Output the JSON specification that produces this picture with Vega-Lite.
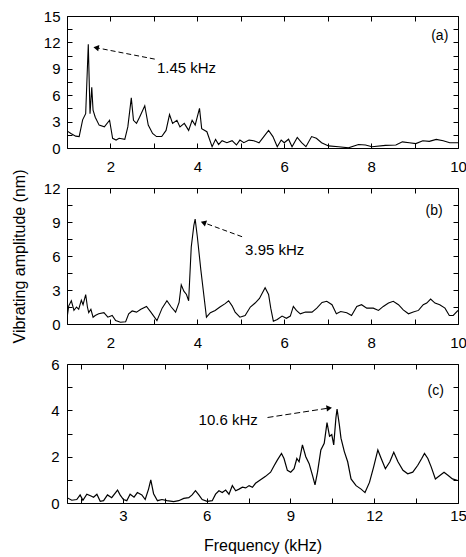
{
  "$schema": "https://vega.github.io/schema/vega-lite/v6.json",
  "padding": {"left": 10, "top": 8, "right": 5, "bottom": 5},
  "background": "white",
  "datasets": {
    "a": [
      {"f": 1.0, "amp": 1.95}, {"f": 1.09, "amp": 1.65}, {"f": 1.2, "amp": 1.35}, {"f": 1.28, "amp": 1.3},
      {"f": 1.36, "amp": 3.2}, {"f": 1.43, "amp": 3.9}, {"f": 1.49, "amp": 11.8}, {"f": 1.53, "amp": 3.9},
      {"f": 1.57, "amp": 6.9}, {"f": 1.6, "amp": 4.3}, {"f": 1.65, "amp": 3.5}, {"f": 1.74, "amp": 2.6},
      {"f": 1.86, "amp": 2.4}, {"f": 1.98, "amp": 3.15}, {"f": 2.05, "amp": 1.1}, {"f": 2.13, "amp": 0.9},
      {"f": 2.2, "amp": 1.1}, {"f": 2.33, "amp": 0.98}, {"f": 2.4, "amp": 2.4}, {"f": 2.48, "amp": 5.7},
      {"f": 2.53, "amp": 3.15}, {"f": 2.6, "amp": 2.8}, {"f": 2.67, "amp": 3.5}, {"f": 2.79, "amp": 4.8},
      {"f": 2.87, "amp": 2.6}, {"f": 2.97, "amp": 1.65}, {"f": 3.06, "amp": 1.3}, {"f": 3.18, "amp": 1.3},
      {"f": 3.28, "amp": 2.0}, {"f": 3.36, "amp": 3.8}, {"f": 3.43, "amp": 2.8}, {"f": 3.53, "amp": 3.15},
      {"f": 3.6, "amp": 2.4}, {"f": 3.7, "amp": 2.8}, {"f": 3.8, "amp": 2.0}, {"f": 3.88, "amp": 3.15},
      {"f": 3.95, "amp": 2.6}, {"f": 4.05, "amp": 4.5}, {"f": 4.1, "amp": 2.2}, {"f": 4.22, "amp": 1.85},
      {"f": 4.34, "amp": 0.15}, {"f": 4.42, "amp": 0.98}, {"f": 4.49, "amp": 0.4}, {"f": 4.57, "amp": 0.83},
      {"f": 4.68, "amp": 0.6}, {"f": 4.8, "amp": 0.83}, {"f": 4.9, "amp": 0.34}, {"f": 4.98, "amp": 0.9},
      {"f": 5.07, "amp": 0.6}, {"f": 5.19, "amp": 0.9}, {"f": 5.3, "amp": 0.83}, {"f": 5.42, "amp": 0.6},
      {"f": 5.53, "amp": 1.3}, {"f": 5.64, "amp": 2.0}, {"f": 5.74, "amp": 1.3}, {"f": 5.84, "amp": 0.15},
      {"f": 5.93, "amp": 0.9}, {"f": 6.0, "amp": 0.6}, {"f": 6.1, "amp": 1.0}, {"f": 6.18, "amp": 0.15},
      {"f": 6.3, "amp": 1.2}, {"f": 6.4, "amp": 0.6}, {"f": 6.5, "amp": 0.15}, {"f": 6.63, "amp": 1.3},
      {"f": 6.74, "amp": 1.1}, {"f": 6.86, "amp": 0.6}, {"f": 7.02, "amp": 0.24}, {"f": 7.25, "amp": 0.15},
      {"f": 7.48, "amp": 0.02}, {"f": 7.71, "amp": 0.4}, {"f": 7.87, "amp": 0.34}, {"f": 8.02, "amp": 0.15},
      {"f": 8.33, "amp": 0.3}, {"f": 8.57, "amp": 0.34}, {"f": 8.72, "amp": 0.7}, {"f": 8.88, "amp": 0.6},
      {"f": 9.03, "amp": 0.5}, {"f": 9.19, "amp": 0.83}, {"f": 9.34, "amp": 0.75}, {"f": 9.5, "amp": 0.98},
      {"f": 9.66, "amp": 0.83}, {"f": 9.81, "amp": 0.6}, {"f": 10.0, "amp": 0.6}
    ],
    "b": [
      {"f": 1.0, "amp": 0.5}, {"f": 1.04, "amp": 1.6}, {"f": 1.1, "amp": 2.05}, {"f": 1.16, "amp": 1.2},
      {"f": 1.22, "amp": 1.5}, {"f": 1.27, "amp": 1.3}, {"f": 1.33, "amp": 2.1}, {"f": 1.37, "amp": 1.7},
      {"f": 1.43, "amp": 2.6}, {"f": 1.47, "amp": 1.5}, {"f": 1.5, "amp": 1.0}, {"f": 1.55, "amp": 1.3},
      {"f": 1.6, "amp": 0.6}, {"f": 1.65, "amp": 0.75}, {"f": 1.73, "amp": 0.9}, {"f": 1.85, "amp": 1.0},
      {"f": 1.94, "amp": 0.6}, {"f": 2.04, "amp": 0.75}, {"f": 2.12, "amp": 0.3}, {"f": 2.23, "amp": 0.15},
      {"f": 2.35, "amp": 0.2}, {"f": 2.42, "amp": 0.9}, {"f": 2.5, "amp": 1.15}, {"f": 2.6, "amp": 1.05},
      {"f": 2.7, "amp": 1.3}, {"f": 2.83, "amp": 1.55}, {"f": 2.93, "amp": 1.05}, {"f": 3.07, "amp": 0.3},
      {"f": 3.19, "amp": 1.4}, {"f": 3.3, "amp": 2.05}, {"f": 3.4, "amp": 1.5}, {"f": 3.5, "amp": 1.05},
      {"f": 3.58, "amp": 1.9}, {"f": 3.63, "amp": 3.45}, {"f": 3.69, "amp": 2.9}, {"f": 3.75, "amp": 2.6},
      {"f": 3.8, "amp": 2.05}, {"f": 3.86, "amp": 6.8}, {"f": 3.92, "amp": 8.7}, {"f": 3.95, "amp": 9.25},
      {"f": 4.0, "amp": 7.7}, {"f": 4.08, "amp": 4.8}, {"f": 4.21, "amp": 0.6}, {"f": 4.3, "amp": 1.0},
      {"f": 4.41, "amp": 1.2}, {"f": 4.52, "amp": 1.5}, {"f": 4.64, "amp": 1.8}, {"f": 4.72, "amp": 2.05},
      {"f": 4.8, "amp": 1.6}, {"f": 4.87, "amp": 1.05}, {"f": 4.98, "amp": 0.6}, {"f": 5.1, "amp": 0.75},
      {"f": 5.22, "amp": 1.5}, {"f": 5.33, "amp": 1.85}, {"f": 5.43, "amp": 2.25}, {"f": 5.56, "amp": 3.2},
      {"f": 5.64, "amp": 2.6}, {"f": 5.69, "amp": 1.4}, {"f": 5.75, "amp": 0.25}, {"f": 5.84, "amp": 0.4},
      {"f": 5.95, "amp": 0.7}, {"f": 6.05, "amp": 0.5}, {"f": 6.14, "amp": 0.7}, {"f": 6.21, "amp": 1.55},
      {"f": 6.28, "amp": 1.2}, {"f": 6.37, "amp": 0.9}, {"f": 6.49, "amp": 1.05}, {"f": 6.64, "amp": 1.05},
      {"f": 6.75, "amp": 1.4}, {"f": 6.87, "amp": 1.9}, {"f": 6.98, "amp": 2.0}, {"f": 7.1, "amp": 1.7},
      {"f": 7.2, "amp": 0.9}, {"f": 7.3, "amp": 1.1}, {"f": 7.44, "amp": 1.0}, {"f": 7.55, "amp": 0.75},
      {"f": 7.67, "amp": 1.55}, {"f": 7.78, "amp": 1.7}, {"f": 7.9, "amp": 1.4}, {"f": 8.05, "amp": 1.4},
      {"f": 8.17, "amp": 1.2}, {"f": 8.28, "amp": 1.55}, {"f": 8.4, "amp": 1.85}, {"f": 8.51, "amp": 2.0},
      {"f": 8.63, "amp": 1.7}, {"f": 8.74, "amp": 1.25}, {"f": 8.86, "amp": 0.9}, {"f": 8.97, "amp": 1.05},
      {"f": 9.09, "amp": 1.2}, {"f": 9.2, "amp": 1.7}, {"f": 9.28, "amp": 1.85}, {"f": 9.37, "amp": 2.2},
      {"f": 9.47, "amp": 1.85}, {"f": 9.58, "amp": 1.7}, {"f": 9.7, "amp": 1.4}, {"f": 9.8, "amp": 0.75},
      {"f": 9.89, "amp": 0.75}, {"f": 10.0, "amp": 1.2}
    ],
    "c": [
      {"f": 1.0, "amp": 0.23}, {"f": 1.17, "amp": 0.12}, {"f": 1.35, "amp": 0.15}, {"f": 1.47, "amp": 0.35},
      {"f": 1.57, "amp": 0.12}, {"f": 1.71, "amp": 0.38}, {"f": 1.86, "amp": 0.3}, {"f": 1.95, "amp": 0.25},
      {"f": 2.07, "amp": 0.38}, {"f": 2.19, "amp": 0.07}, {"f": 2.31, "amp": 0.1}, {"f": 2.45, "amp": 0.35},
      {"f": 2.6, "amp": 0.23}, {"f": 2.81, "amp": 0.56}, {"f": 2.9, "amp": 0.35}, {"f": 3.02, "amp": 0.15},
      {"f": 3.14, "amp": 0.1}, {"f": 3.26, "amp": 0.38}, {"f": 3.4, "amp": 0.25}, {"f": 3.52, "amp": 0.45},
      {"f": 3.68, "amp": 0.35}, {"f": 3.8, "amp": 0.15}, {"f": 3.92, "amp": 0.6}, {"f": 4.0, "amp": 1.0},
      {"f": 4.1, "amp": 0.4}, {"f": 4.24, "amp": 0.1}, {"f": 4.4, "amp": 0.15}, {"f": 4.58, "amp": 0.1},
      {"f": 4.82, "amp": 0.06}, {"f": 5.0, "amp": 0.1}, {"f": 5.18, "amp": 0.2}, {"f": 5.36, "amp": 0.23},
      {"f": 5.48, "amp": 0.35}, {"f": 5.6, "amp": 0.53}, {"f": 5.72, "amp": 0.35}, {"f": 5.84, "amp": 0.15},
      {"f": 6.02, "amp": 0.07}, {"f": 6.2, "amp": 0.1}, {"f": 6.32, "amp": 0.38}, {"f": 6.44, "amp": 0.53},
      {"f": 6.56, "amp": 0.45}, {"f": 6.68, "amp": 0.56}, {"f": 6.8, "amp": 0.38}, {"f": 6.92, "amp": 0.75},
      {"f": 7.04, "amp": 0.53}, {"f": 7.16, "amp": 0.6}, {"f": 7.28, "amp": 0.68}, {"f": 7.4, "amp": 0.65},
      {"f": 7.52, "amp": 0.75}, {"f": 7.64, "amp": 0.68}, {"f": 7.75, "amp": 0.85}, {"f": 7.93, "amp": 1.0},
      {"f": 8.11, "amp": 1.15}, {"f": 8.29, "amp": 1.33}, {"f": 8.41, "amp": 1.6}, {"f": 8.53, "amp": 1.85},
      {"f": 8.68, "amp": 2.14}, {"f": 8.77, "amp": 1.92}, {"f": 8.89, "amp": 1.41}, {"f": 9.01, "amp": 1.33},
      {"f": 9.13, "amp": 1.48}, {"f": 9.23, "amp": 1.92}, {"f": 9.31, "amp": 1.78}, {"f": 9.43, "amp": 2.51},
      {"f": 9.55, "amp": 2.0}, {"f": 9.67, "amp": 1.7}, {"f": 9.79, "amp": 1.19}, {"f": 9.88, "amp": 0.78},
      {"f": 9.97, "amp": 1.33}, {"f": 10.09, "amp": 2.29}, {"f": 10.21, "amp": 2.58}, {"f": 10.31, "amp": 3.47},
      {"f": 10.4, "amp": 2.88}, {"f": 10.48, "amp": 2.95}, {"f": 10.55, "amp": 2.51}, {"f": 10.63, "amp": 3.69},
      {"f": 10.67, "amp": 4.05}, {"f": 10.75, "amp": 3.39}, {"f": 10.81, "amp": 2.8}, {"f": 10.93, "amp": 2.22},
      {"f": 11.05, "amp": 1.78}, {"f": 11.17, "amp": 1.04}, {"f": 11.35, "amp": 0.75}, {"f": 11.53, "amp": 0.6},
      {"f": 11.67, "amp": 0.45}, {"f": 11.83, "amp": 0.89}, {"f": 11.98, "amp": 1.56}, {"f": 12.13, "amp": 2.29},
      {"f": 12.25, "amp": 1.92}, {"f": 12.4, "amp": 1.48}, {"f": 12.56, "amp": 1.78}, {"f": 12.7, "amp": 2.19},
      {"f": 12.85, "amp": 1.78}, {"f": 13.03, "amp": 1.41}, {"f": 13.2, "amp": 1.26}, {"f": 13.38, "amp": 1.33},
      {"f": 13.56, "amp": 1.63}, {"f": 13.7, "amp": 1.92}, {"f": 13.8, "amp": 2.14}, {"f": 13.92, "amp": 1.92},
      {"f": 14.04, "amp": 1.56}, {"f": 14.19, "amp": 1.04}, {"f": 14.35, "amp": 1.19}, {"f": 14.5, "amp": 1.33},
      {"f": 14.65, "amp": 1.19}, {"f": 14.8, "amp": 1.04}, {"f": 15.0, "amp": 0.97}
    ],
    "notes": [
      {"panel": "a", "label": "1.45 kHz", "tx": 3.07, "ty": 9.1, "x1": 3.02, "y1": 10.1, "x2": 1.67, "y2": 11.4, "tag": "(a)", "gx": 9.58, "gy": 12.7},
      {"panel": "b", "label": "3.95 kHz", "tx": 5.1, "ty": 6.5, "x1": 5.03, "y1": 7.7, "x2": 4.14, "y2": 8.95, "tag": "(b)", "gx": 9.45, "gy": 10.0},
      {"panel": "c", "label": "10.6 kHz", "tx": 5.71, "ty": 3.6, "x1": 8.18, "y1": 3.69, "x2": 10.39, "y2": 4.1, "tag": "(c)", "gx": 14.2, "gy": 4.85}
    ]
  },
  "vconcat": [
    {
      "width": 391,
      "height": 132,
      "layer": [
        {
          "data": {"name": "a"},
          "mark": {"type": "line", "color": "black", "strokeWidth": 1.1, "clip": true},
          "encoding": {
            "x": {"field": "f", "type": "quantitative", "scale": {"domain": [1, 10], "nice": false, "zero": false},
              "axis": {"orient": "bottom", "title": null, "values": [1, 2, 3, 4, 5, 6, 7, 8, 9, 10], "labelExpr": "datum.value % 2 == 0 ? datum.label : ''", "labelPadding": 16}},
            "y": {"field": "amp", "type": "quantitative", "scale": {"domain": [0, 15], "nice": false},
              "axis": {"orient": "left", "title": null, "values": [0, 1.5, 3, 4.5, 6, 7.5, 9, 10.5, 12, 13.5, 15], "labelExpr": "datum.value % 3 == 0 ? datum.label : ''", "labelPadding": 12}}
          }
        },
        {
          "data": {"name": "notes"},
          "transform": [{"filter": "datum.panel == 'a'"}],
          "mark": {"type": "rule", "color": "black", "strokeWidth": 1, "strokeDash": [5, 3]},
          "encoding": {
            "x": {"field": "x1", "type": "quantitative", "axis": {"orient": "top", "title": null, "labels": false, "values": [1, 2, 3, 4, 5, 6, 7, 8, 9, 10]}},
            "y": {"field": "y1", "type": "quantitative", "axis": {"orient": "right", "title": null, "labels": false, "values": [0, 1.5, 3, 4.5, 6, 7.5, 9, 10.5, 12, 13.5, 15]}},
            "x2": {"field": "x2"},
            "y2": {"field": "y2"}
          }
        },
        {
          "data": {"name": "notes"},
          "transform": [{"filter": "datum.panel == 'a'"}],
          "mark": {"type": "point", "shape": "triangle-left", "angle": 11, "filled": true, "color": "black", "opacity": 1, "size": 40},
          "encoding": {
            "x": {"field": "x2", "type": "quantitative", "axis": null},
            "y": {"field": "y2", "type": "quantitative", "axis": null}
          }
        },
        {
          "data": {"name": "notes"},
          "transform": [{"filter": "datum.panel == 'a'"}],
          "mark": {"type": "text", "align": "left", "baseline": "middle", "fontSize": 15},
          "encoding": {
            "x": {"field": "tx", "type": "quantitative", "axis": null},
            "y": {"field": "ty", "type": "quantitative", "axis": null},
            "text": {"field": "label"}
          }
        },
        {
          "data": {"name": "notes"},
          "transform": [{"filter": "datum.panel == 'a'"}],
          "mark": {"type": "text", "align": "center", "baseline": "middle", "fontSize": 14},
          "encoding": {
            "x": {"field": "gx", "type": "quantitative", "axis": null},
            "y": {"field": "gy", "type": "quantitative", "axis": null},
            "text": {"field": "tag"}
          }
        }
      ],
      "resolve": {"axis": {"x": "independent", "y": "independent"}}
    },
    {
      "width": 391,
      "height": 136,
      "layer": [
        {
          "data": {"name": "b"},
          "mark": {"type": "line", "color": "black", "strokeWidth": 1.1, "clip": true},
          "encoding": {
            "x": {"field": "f", "type": "quantitative", "scale": {"domain": [1, 10], "nice": false, "zero": false},
              "axis": {"orient": "bottom", "title": null, "values": [1, 2, 3, 4, 5, 6, 7, 8, 9, 10], "labelExpr": "datum.value % 2 == 0 ? datum.label : ''", "labelPadding": 16}},
            "y": {"field": "amp", "type": "quantitative", "scale": {"domain": [0, 12], "nice": false},
              "axis": {"orient": "left", "title": "Vibrating amplitude (nm)", "titlePadding": 16, "values": [0, 1.5, 3, 4.5, 6, 7.5, 9, 10.5, 12], "labelExpr": "datum.value % 3 == 0 ? datum.label : ''", "labelPadding": 12}}
          }
        },
        {
          "data": {"name": "notes"},
          "transform": [{"filter": "datum.panel == 'b'"}],
          "mark": {"type": "rule", "color": "black", "strokeWidth": 1, "strokeDash": [5, 3]},
          "encoding": {
            "x": {"field": "x1", "type": "quantitative", "axis": {"orient": "top", "title": null, "labels": false, "values": [1, 2, 3, 4, 5, 6, 7, 8, 9, 10]}},
            "y": {"field": "y1", "type": "quantitative", "axis": {"orient": "right", "title": null, "labels": false, "values": [0, 1.5, 3, 4.5, 6, 7.5, 9, 10.5, 12]}},
            "x2": {"field": "x2"},
            "y2": {"field": "y2"}
          }
        },
        {
          "data": {"name": "notes"},
          "transform": [{"filter": "datum.panel == 'b'"}],
          "mark": {"type": "point", "shape": "triangle-left", "angle": 20, "filled": true, "color": "black", "opacity": 1, "size": 40},
          "encoding": {
            "x": {"field": "x2", "type": "quantitative", "axis": null},
            "y": {"field": "y2", "type": "quantitative", "axis": null}
          }
        },
        {
          "data": {"name": "notes"},
          "transform": [{"filter": "datum.panel == 'b'"}],
          "mark": {"type": "text", "align": "left", "baseline": "middle", "fontSize": 15},
          "encoding": {
            "x": {"field": "tx", "type": "quantitative", "axis": null},
            "y": {"field": "ty", "type": "quantitative", "axis": null},
            "text": {"field": "label"}
          }
        },
        {
          "data": {"name": "notes"},
          "transform": [{"filter": "datum.panel == 'b'"}],
          "mark": {"type": "text", "align": "center", "baseline": "middle", "fontSize": 14},
          "encoding": {
            "x": {"field": "gx", "type": "quantitative", "axis": null},
            "y": {"field": "gy", "type": "quantitative", "axis": null},
            "text": {"field": "tag"}
          }
        }
      ],
      "resolve": {"axis": {"x": "independent", "y": "independent"}}
    },
    {
      "width": 391,
      "height": 139,
      "layer": [
        {
          "data": {"name": "c"},
          "mark": {"type": "line", "color": "black", "strokeWidth": 1.2, "clip": true},
          "encoding": {
            "x": {"field": "f", "type": "quantitative", "scale": {"domain": [1, 15], "nice": false, "zero": false},
              "axis": {"orient": "bottom", "title": "Frequency (kHz)", "titlePadding": 14, "values": [1.5, 3, 4.5, 6, 7.5, 9, 10.5, 12, 13.5, 15], "labelExpr": "datum.value % 3 == 0 ? datum.label : ''", "labelPadding": 10}},
            "y": {"field": "amp", "type": "quantitative", "scale": {"domain": [0, 6], "nice": false},
              "axis": {"orient": "left", "title": null, "values": [0, 1, 2, 3, 4, 5, 6], "labelExpr": "datum.value % 2 == 0 ? datum.label : ''", "labelPadding": 13}}
          }
        },
        {
          "data": {"name": "notes"},
          "transform": [{"filter": "datum.panel == 'c'"}],
          "mark": {"type": "rule", "color": "black", "strokeWidth": 1, "strokeDash": [6, 3]},
          "encoding": {
            "x": {"field": "x1", "type": "quantitative", "axis": {"orient": "top", "title": null, "labels": false, "values": [1.5, 3, 4.5, 6, 7.5, 9, 10.5, 12, 13.5, 15]}},
            "y": {"field": "y1", "type": "quantitative", "axis": {"orient": "right", "title": null, "labels": false, "values": [0, 1, 2, 3, 4, 5, 6]}},
            "x2": {"field": "x2"},
            "y2": {"field": "y2"}
          }
        },
        {
          "data": {"name": "notes"},
          "transform": [{"filter": "datum.panel == 'c'"}],
          "mark": {"type": "point", "shape": "triangle-right", "angle": -8, "filled": true, "color": "black", "opacity": 1, "size": 40},
          "encoding": {
            "x": {"field": "x2", "type": "quantitative", "axis": null},
            "y": {"field": "y2", "type": "quantitative", "axis": null}
          }
        },
        {
          "data": {"name": "notes"},
          "transform": [{"filter": "datum.panel == 'c'"}],
          "mark": {"type": "text", "align": "left", "baseline": "middle", "fontSize": 15},
          "encoding": {
            "x": {"field": "tx", "type": "quantitative", "axis": null},
            "y": {"field": "ty", "type": "quantitative", "axis": null},
            "text": {"field": "label"}
          }
        },
        {
          "data": {"name": "notes"},
          "transform": [{"filter": "datum.panel == 'c'"}],
          "mark": {"type": "text", "align": "center", "baseline": "middle", "fontSize": 14},
          "encoding": {
            "x": {"field": "gx", "type": "quantitative", "axis": null},
            "y": {"field": "gy", "type": "quantitative", "axis": null},
            "text": {"field": "tag"}
          }
        }
      ],
      "resolve": {"axis": {"x": "independent", "y": "independent"}}
    }
  ],
  "spacing": 40,
  "bounds": "flush",
  "config": {
    "font": "Liberation Sans",
    "view": {"stroke": "black", "strokeWidth": 1},
    "axis": {
      "grid": false,
      "domain": false,
      "ticks": true,
      "tickSize": -5,
      "tickColor": "black",
      "tickWidth": 1,
      "labelColor": "black",
      "labelFont": "Liberation Sans",
      "labelFontSize": 15,
      "labelFlush": false,
      "labelOverlap": false,
      "titleFont": "Liberation Sans",
      "titleFontSize": 16,
      "titleFontWeight": "normal",
      "titleColor": "black"
    },
    "text": {"font": "Liberation Sans", "color": "black"}
  }
}
